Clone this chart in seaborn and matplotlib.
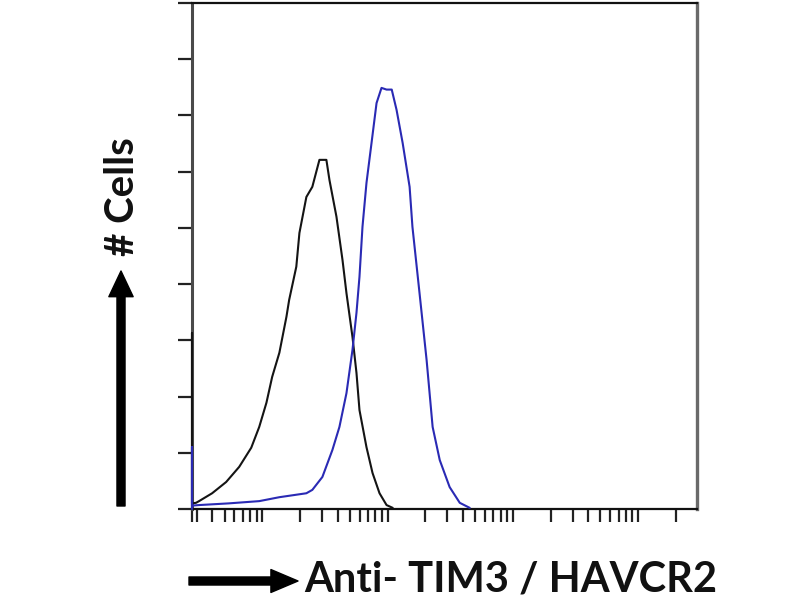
import numpy as np
import pandas as pd
import matplotlib
matplotlib.use("Agg")
import matplotlib.pyplot as plt
import matplotlib.ticker as mticker
import seaborn as sns

# ---- data (fluorescence intensity, cell count units) ----
ctrl_x = [2.75, 2.75, 2.75, 2.96, 3.13, 3.98, 5.15, 6.55, 8.17, 9.46, 10.8, 12.0, 13.7, 15.6, 16.4,
          18.7, 19.8, 22.5, 25.1, 28.6, 32.5, 34.4, 39.1, 43.7, 47.0, 52.5, 56.5, 59.7,
          67.9, 75.9, 86.3, 98.2, 110]
ctrl_y = [0.0, 3.13, 0.10, 0.11, 0.14, 0.28, 0.48, 0.75, 1.09, 1.46, 1.89, 2.35, 2.78, 3.42, 3.72,
          4.31, 4.91, 5.55, 5.73, 6.21, 6.21, 5.85, 5.20, 4.43, 3.84, 3.06, 2.42, 1.76,
          1.10, 0.64, 0.28, 0.07, 0.02]

tim3_x = [2.75, 2.75, 2.75, 3.13, 5.4, 9.46, 13.7, 22.5, 25.1, 30.2, 36.3, 41.3, 47.0, 52.5, 56.5,
          59.7, 63.1, 67.9, 74.5, 81.7, 89.5, 98.2, 108, 118, 132, 150, 158, 180, 205,
          229, 261, 313, 377, 453]
tim3_y = [0.0, 1.10, 0.06, 0.07, 0.10, 0.14, 0.21, 0.28, 0.34, 0.57, 1.05, 1.46, 2.06, 2.83, 3.49,
          4.13, 5.02, 5.80, 6.51, 7.22, 7.49, 7.46, 7.46, 7.10, 6.51, 5.73, 5.02, 3.84, 2.65,
          1.46, 0.87, 0.39, 0.11, 0.02]

y_ticks = [0, 1, 2, 3, 4, 5, 6, 7, 8, 9]
x_major = [2.75, 10, 100, 1000, 10000]
x_range = (2.75, 29500)

sns.set_theme(style="white")
plt.rcParams['font.family'] = ['Lato', 'DejaVu Sans']

fig = plt.figure(figsize=(8, 6), dpi=100)
ax = fig.add_axes([192 / 800, 1 - 509 / 600, 505 / 800, 506 / 600])

sns.lineplot(x=ctrl_x, y=ctrl_y, ax=ax, color="#141414", lw=1.5, estimator=None,
             sort=False, zorder=4, clip_on=False)
sns.lineplot(x=tim3_x, y=tim3_y, ax=ax, color="#2a2ab4", lw=1.5, estimator=None,
             sort=False, zorder=5, clip_on=False)

ax.set_xscale("log")
ax.set_xlim(*x_range)
ax.set_ylim(0, 9)
ax.set_yticks(y_ticks)
ax.set_xticks(x_major)
ax.xaxis.set_minor_locator(mticker.LogLocator(base=10, subs=np.arange(2, 10), numticks=20))
ax.set_yticklabels([])
ax.set_xticklabels([])
ax.xaxis.set_minor_formatter(mticker.NullFormatter())
ax.set_xlabel("")
ax.set_ylabel("")

ax.tick_params(axis="y", which="major", direction="out", length=10, width=1.6,
               color="#222222", left=True)
ax.tick_params(axis="x", which="both", direction="out", length=9, width=1.6,
               color="#222222", bottom=True)

for side, col, w in [("left", "#4a4a4a", 2.2), ("top", "#111111", 1.6),
                     ("right", "#6a6a6a", 2.4), ("bottom", "#111111", 1.6)]:
    ax.spines[side].set_visible(True)
    ax.spines[side].set_color(col)
    ax.spines[side].set_linewidth(w)

# arrows
fig_h = 600
ax.annotate("", xy=(298, fig_h - 581), xytext=(189, fig_h - 581), xycoords="figure pixels",
            textcoords="figure pixels",
            arrowprops=dict(width=5.8, headwidth=16.5, headlength=19.5, shrink=0, color="black"))
ax.annotate("", xy=(121, fig_h - 271), xytext=(121, fig_h - 506), xycoords="figure pixels",
            textcoords="figure pixels",
            arrowprops=dict(width=5.8, headwidth=17.5, headlength=18.5, shrink=0, color="black"))

fig.text(304 / 800, 1 - 580 / 600, "Anti- TIM3 / HAVCR2", ha="left", va="center",
         fontsize=30, fontweight="bold", color="#111111")
fig.text(122 / 800, 1 - 197 / 600, "# Cells", ha="center", va="center", rotation=90,
         fontsize=29, fontweight="bold", color="#111111")

fig.savefig("out.png", dpi=100, facecolor="white")
